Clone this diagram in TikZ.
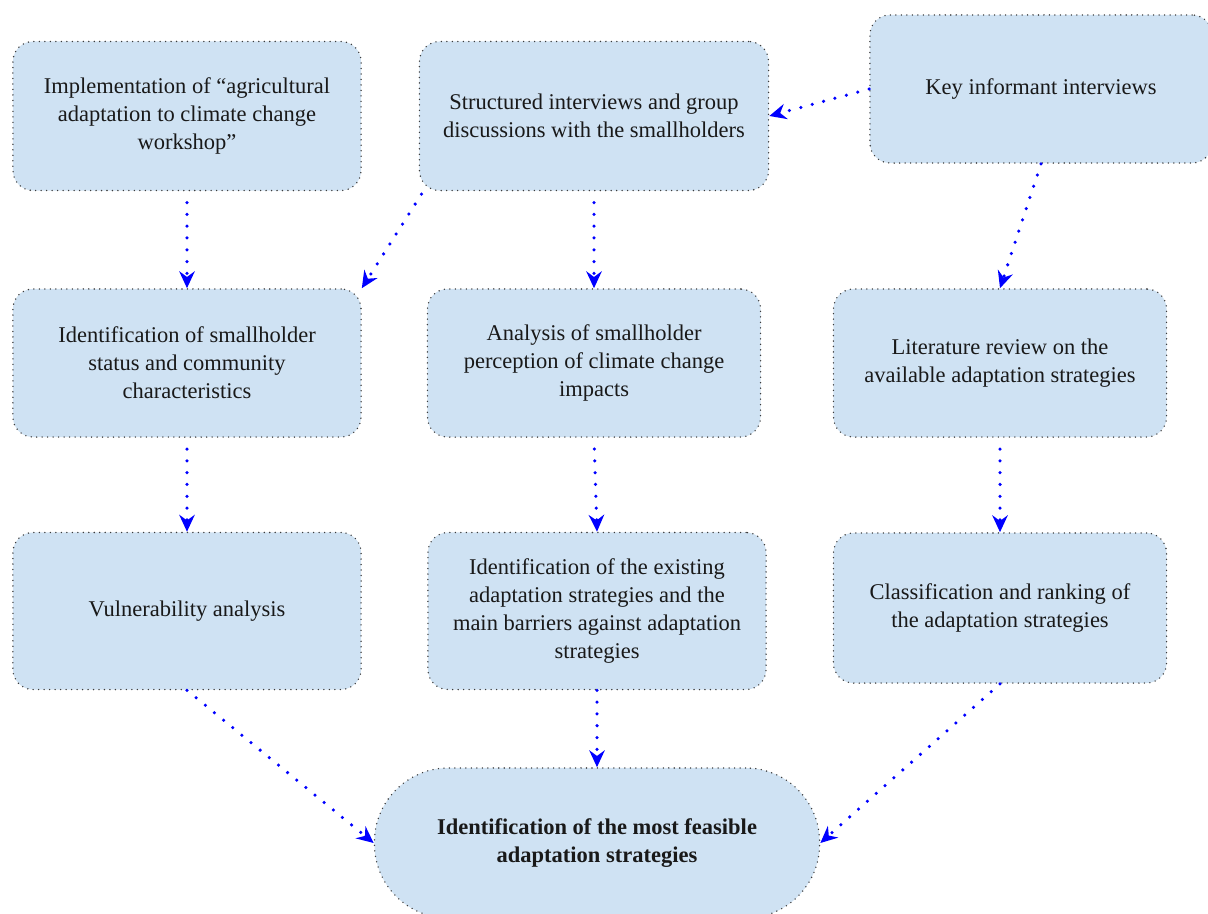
\documentclass[tikz,border=0pt]{standalone}
\usepackage{fontspec}
\setmainfont{Liberation Serif}
\usepackage{tikz}
\usetikzlibrary{arrows.meta}

\definecolor{boxblue}{RGB}{207,226,243}
\definecolor{dotgray}{RGB}{60,60,60}

\tikzset{
    stagebox/.style={draw=dotgray, fill=boxblue, rounded corners=0.5cm,
        line width=1.1pt, dash pattern=on 0pt off 3.9pt, line cap=round,
        align=center, inner sep=4pt, text=black!90,
        font=\fontsize{16}{20}\selectfont},
    goalbox/.style={stagebox, rounded corners=1.85cm, font=\fontsize{16}{20}\selectfont\bfseries},
    flow/.style={draw=blue, line width=2.5pt, dash pattern=on 0pt off 8.4pt, line cap=round,
        -{Stealth[length=12pt,width=11pt,inset=4pt]}, shorten <=8pt},
    flowtight/.style={flow, shorten <=0pt}
}

\begin{document}
\begin{tikzpicture}[x=0.025cm,y=-0.025cm]
    \useasboundingbox (0,0) rectangle (1208,913);
    % first row
    \node[stagebox, minimum width=8.7cm, minimum height=3.725cm] (impl) at (187,116)
        {Implementation of ``agricultural\\ adaptation to climate change\\ workshop''};
    \node[stagebox, minimum width=8.725cm, minimum height=3.725cm] (interv) at (594,116)
        {Structured interviews and group\\ discussions with the smallholders};
    \node[stagebox, minimum width=8.55cm, minimum height=3.7cm] (key) at (1041,89)
        {Key informant interviews};
    % second row
    \node[stagebox, minimum width=8.7cm, minimum height=3.7cm] (status) at (187,363)
        {Identification of smallholder\\ status and community\\ characteristics};
    \node[stagebox, minimum width=8.325cm, minimum height=3.7cm] (percep) at (594,363)
        {Analysis of smallholder\\ perception of climate change\\ impacts};
    \node[stagebox, minimum width=8.325cm, minimum height=3.7cm] (review) at (1000,363)
        {Literature review on the\\ available adaptation strategies};
    % third row
    \node[stagebox, minimum width=8.7cm, minimum height=3.925cm] (vuln) at (187,611)
        {Vulnerability analysis};
    \node[stagebox, minimum width=8.45cm, minimum height=3.925cm] (exist) at (597,611)
        {Identification of the existing\\ adaptation strategies and the\\ main barriers against adaptation\\ strategies};
    \node[stagebox, minimum width=8.325cm, minimum height=3.75cm] (rank) at (1000,608)
        {Classification and ranking of\\ the adaptation strategies};
    % result
    \node[goalbox, minimum width=11.125cm, minimum height=3.75cm] (feasible) at (597,843)
        {Identification of the most feasible\\ adaptation strategies};

    \draw[flowtight] (key.west) -- (interv.east);
    \draw[flow] (impl.south) -- (status.north);
    \draw[flowtight] ([xshift=2pt,yshift=-2pt]interv.south west) -- (status.north east);
    \draw[flow] (interv.south) -- (percep.north);
    \draw[flowtight] (key.south) -- (review.north);
    \draw[flow] (status.south) -- (vuln.north);
    \draw[flow] (percep.south) -- (exist.north);
    \draw[flow] (review.south) -- (rank.north);
    \draw[flowtight] (vuln.south) -- (feasible.west);
    \draw[flowtight] (exist.south) -- (feasible.north);
    \draw[flowtight] (rank.south) -- (feasible.east);
\end{tikzpicture}
\end{document}
